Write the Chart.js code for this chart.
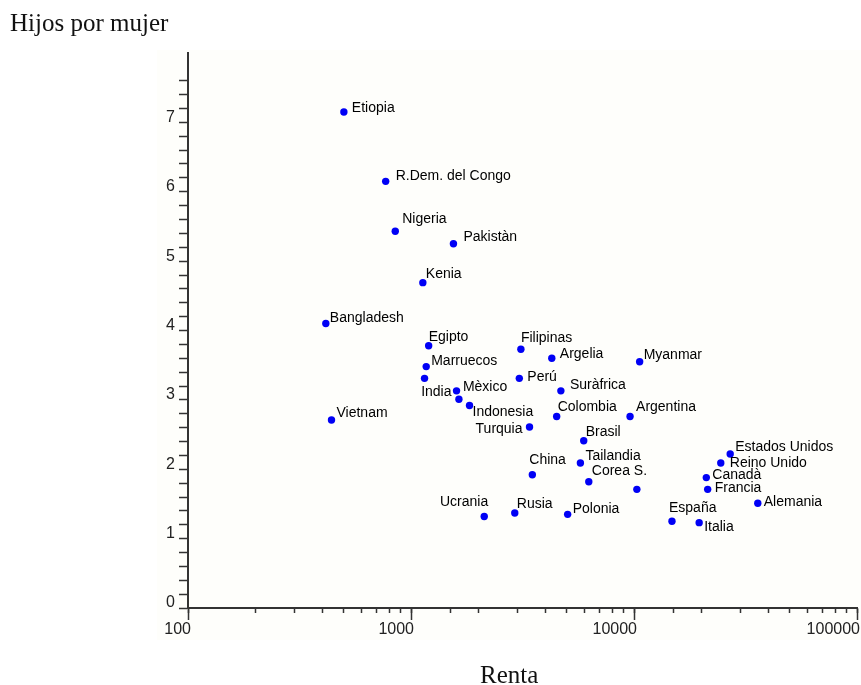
<!DOCTYPE html>
<html>
<head>
<meta charset="utf-8">
<script src="https://cdn.jsdelivr.net/npm/chart.js@4.4.1/dist/chart.umd.min.js"></script>
<style>
  html, body { margin: 0; padding: 0; background: #fff; }
  #wrap { position: relative; width: 861px; height: 685px; }
</style>
</head>
<body>
<div id="wrap"><canvas id="scatterChart"></canvas></div>
<script>
// DATOS

const paises = [
  "Etiopia", "R.Dem. del Congo", "Nigeria", "Pakistàn", "Kenia", "Bangladesh",
  "Egipto", "Marruecos", "", "India", "Mèxico", "Indonesia", "Vietnam",
  "Filipinas", "Argelia", "Myanmar", "Perú", "Suràfrica", "Colombia",
  "Argentina", "Turquia", "Brasil", "China", "Tailandia", "Corea S.", "",
  "Ucrania", "Rusia", "Polonia", "España", "Italia", "Estados Unidos",
  "Reino Unido", "Canadà", "Francia", "Alemania",
];

const renta = [
  500, 770, 850, 1550, 1130, 415,
  1200, 1170, 1150, 1600, 1640, 1830, 440,
  3110, 4280, 10600, 3060, 4700, 4500,
  9600, 3400, 5950, 3500, 5750, 6270, 10300,
  2130, 2920, 5040, 14800, 19600, 27000,
  24500, 21100, 21400, 35900,
];

const hijos = [
  7.15, 6.15, 5.43, 5.25, 4.69, 4.1,
  3.78, 3.48, 3.31, 3.13, 3.01, 2.92, 2.71,
  3.73, 3.6, 3.55, 3.31, 3.13, 2.76,
  2.76, 2.61, 2.41, 1.92, 2.09, 1.82, 1.71,
  1.32, 1.37, 1.35, 1.25, 1.23, 2.22,
  2.09, 1.88, 1.71, 1.51,
];

const rentaTicks = [100, 1000, 10000, 100000];
const hijosTicks = [0, 1, 2, 3, 4, 5, 6, 7];

// posición de cada etiqueta respecto a su punto: [dx, dy, alineación]
const posEtiqueta = {
  "Etiopia": [8, -4], "R.Dem. del Congo": [10, -5], "Nigeria": [7, -12],
  "Pakistàn": [10, -7], "Kenia": [3, -8], "Bangladesh": [4, -5],
  "Egipto": [0, -9], "Marruecos": [5, -5], "India": [-5, 1, "right"],
  "Mèxico": [4, -12], "Indonesia": [3, 7], "Vietnam": [5, -7],
  "Filipinas": [0, -11], "Argelia": [8, -4], "Myanmar": [4, -7],
  "Perú": [8, -1], "Suràfrica": [9, -6], "Colombia": [1, -9],
  "Argentina": [6, -9], "Turquia": [-7, 2, "right"], "Brasil": [2, -9],
  "China": [-3, -15], "Tailandia": [5, -7], "Corea S.": [3, -11],
  "Ucrania": [4, -14, "right"], "Rusia": [2, -9], "Polonia": [5, -5],
  "España": [-3, -13], "Italia": [5, 4], "Estados Unidos": [5, -7],
  "Reino Unido": [9, 0], "Canadà": [6, -2], "Francia": [7, -1],
  "Alemania": [6, -1],
};

const esMarca = (v, lista) => lista.some((t) => Math.abs(v - t) < t * 1e-6 + 1e-6);
const axisColor = "#333";
const tickFont = { family: "'Liberation Sans', Arial, sans-serif", size: 16 };

const puntos = renta.map((r, i) => ({ x: r, y: hijos[i] }));

// fondo, títulos y etiquetas de países
const extras = {
  id: "extras",
  beforeDraw(chart) {
    const ctx = chart.ctx;
    ctx.save();
    ctx.fillStyle = "#fefefb";
    ctx.fillRect(157, 50, 704, 590);
    ctx.restore();
  },
  afterDatasetsDraw(chart) {
    const ctx = chart.ctx;
    const meta = chart.getDatasetMeta(0);
    ctx.save();
    ctx.font = "14px 'Liberation Sans', Arial, sans-serif";
    ctx.fillStyle = "#000";
    ctx.textBaseline = "middle";
    meta.data.forEach((pt, i) => {
      const nombre = paises[i];
      if (!nombre) return;
      const [dx, dy, al] = posEtiqueta[nombre] || [6, -6];
      ctx.textAlign = al || "left";
      ctx.fillText(nombre, pt.x + dx, pt.y + dy);
    });
    ctx.restore();
  },
  afterDraw(chart) {
    const ctx = chart.ctx;
    ctx.save();
    ctx.font = "25px 'Liberation Serif', 'Times New Roman', serif";
    ctx.fillStyle = "#111";
    ctx.textBaseline = "alphabetic";
    ctx.textAlign = "left";
    ctx.fillText("Hijos por mujer", 10, 31);
    ctx.fillText("Renta", 480, 683);
    ctx.restore();
  },
};

const scatterChart = document.getElementById("scatterChart");

new Chart(scatterChart, {
  type: "scatter",
  data: {
    datasets: [
      {
        label: "Países",
        data: puntos,
        backgroundColor: "rgb(0, 0, 245)",
        borderWidth: 0,
        pointRadius: 3.7,
        pointHoverRadius: 3.7,
      },
    ],
  },
  options: {
    responsive: true,
    maintainAspectRatio: false,
    animation: false,
    layout: { padding: { left: 0, right: 4, top: 53, bottom: 0 } },
    plugins: { legend: { display: false }, tooltip: { enabled: false } },
    scales: {
      x: {
        type: "logarithmic",
        position: "bottom",
        weight: 1,
        min: 100,
        max: 100000,
        grid: {
          drawOnChartArea: false,
          drawTicks: true,
          tickLength: 12,
          tickWidth: 1.5,
          tickColor: (ctx) => (ctx.tick && esMarca(ctx.tick.value, rentaTicks) ? axisColor : "rgba(0,0,0,0)"),
        },
        border: { display: true, color: axisColor, width: 2 },
        ticks: {
          autoSkip: false,
          maxRotation: 0,
          align: "end",
          labelOffset: 3,
          padding: 0,
          color: "#222",
          font: tickFont,
          callback: (v) => (esMarca(v, rentaTicks) ? String(v) : ""),
        },
        afterFit: (s) => { s.height = 77; },
      },
      xMenor: {
        type: "logarithmic",
        position: "bottom",
        weight: 0,
        min: 100,
        max: 100000,
        grid: {
          drawOnChartArea: false,
          drawTicks: true,
          tickLength: 5,
          tickWidth: 1.5,
          tickColor: axisColor,
        },
        border: { display: false },
        ticks: { autoSkip: false, maxRotation: 0, callback: () => "" },
        afterFit: (s) => { s.height = 0; },
      },
      y: {
        type: "linear",
        min: 0,
        max: 8,
        grid: {
          drawOnChartArea: false,
          drawTicks: true,
          tickLength: 9,
          tickWidth: 1.5,
          tickColor: (ctx) => (ctx.tick && ctx.tick.value > 7.7 ? "rgba(0,0,0,0)" : axisColor),
        },
        border: { display: true, color: axisColor, width: 2 },
        ticks: {
          stepSize: 0.2,
          autoSkip: false,
          padding: 4,
          labelOffset: -5,
          color: "#222",
          font: tickFont,
          callback: (v) => (esMarca(v, hijosTicks) ? String(Math.round(v)) : ""),
        },
        afterFit: (s) => { s.width = 188; },
      },
    },
  },
  plugins: [extras],
});
</script>
</body>
</html>
